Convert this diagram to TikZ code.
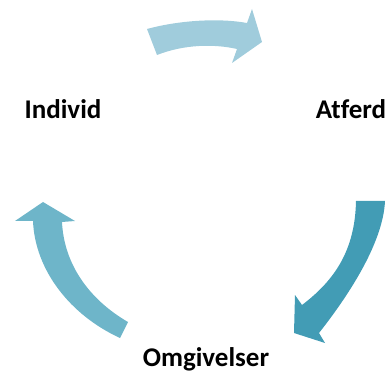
\documentclass[tikz,border=0pt]{standalone}
\usepackage{fontspec}
\setmainfont[Ligatures=CommonOff]{Carlito}
\begin{document}
\begin{tikzpicture}[x=1pt,y=-1pt]

% Colors
\definecolor{arrowlight}{RGB}{160,204,220}
\definecolor{arrowmid}{RGB}{110,181,201}
\definecolor{arrowdark}{RGB}{66,156,181}

% Parameters
\def\labelsize{\fontsize{27}{31}\selectfont\bfseries}

\useasboundingbox (0,0) rectangle (391,374);

% Labels
\node[anchor=base, inner sep=0pt] (individ) at (63,119) {\labelsize Individ};
\node[anchor=base, inner sep=0pt] (atferd) at (351,119) {\labelsize Atferd};
\node[anchor=base, inner sep=0pt] (omgivelser) at (206,366) {\labelsize Omgivelser};

% Individ -> Atferd
\fill[arrowlight] (147,29) .. controls (180,20) and (220,18) .. (247,23)
  -- (252,9) -- (262,42) -- (232,63) -- (237,49)
  .. controls (215,44) and (185,44) .. (157,55) -- cycle;

% Atferd -> Omgivelser
\fill[arrowdark] (356,201) -- (385,201)
  .. controls (383,245) and (345,300) .. (319,333)
  -- (325,343) -- (294,333) -- (295,295) -- (302,305)
  .. controls (335,280) and (355,250) .. (356,201) -- cycle;

% Omgivelser -> Individ
\fill[arrowmid] (128,322) .. controls (90,300) and (64,265) .. (62,222)
  -- (75,221) -- (43,202) -- (15,221) -- (33,221)
  .. controls (35,270) and (70,315) .. (120,338) -- cycle;

\end{tikzpicture}
\end{document}
